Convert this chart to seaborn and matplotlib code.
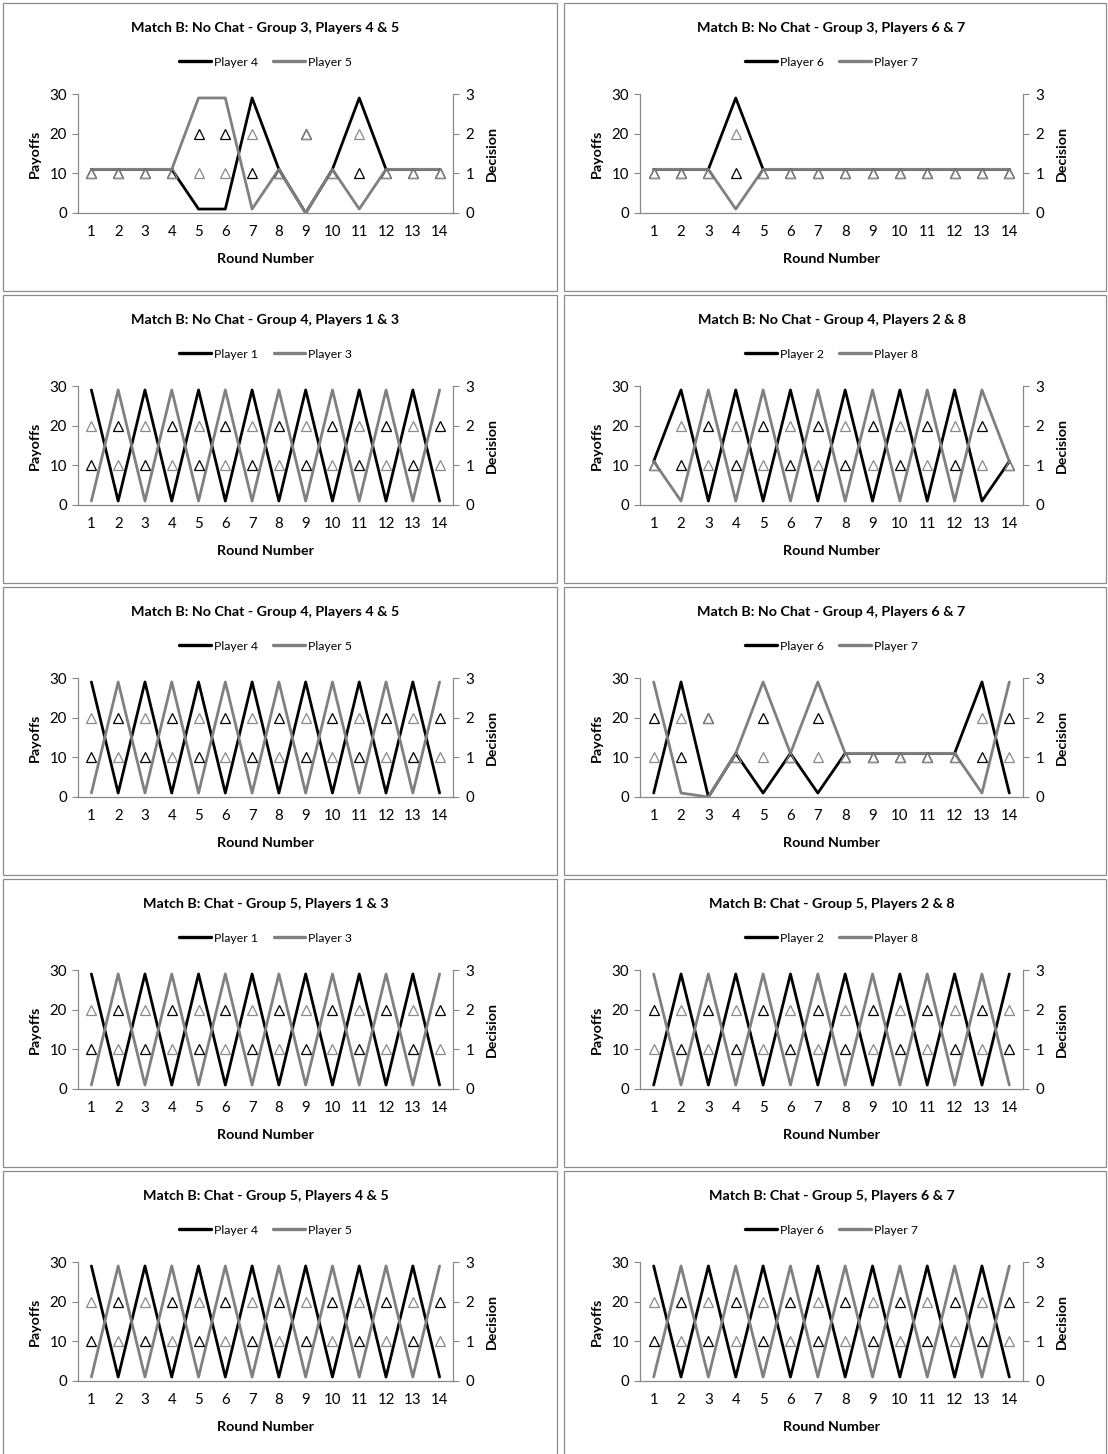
import matplotlib
matplotlib.use("Agg")
import matplotlib.pyplot as plt
import matplotlib.ticker as tck
from matplotlib.lines import Line2D
from matplotlib.patches import Rectangle
import pandas as pd
import seaborn as sns

# ---- data ----
ROUNDS = list(range(1, 15))

TITLES = [
    "Match B: No Chat - Group 3, Players 4 & 5",
    "Match B: No Chat - Group 3, Players 6 & 7",
    "Match B: No Chat - Group 4, Players 1 & 3",
    "Match B: No Chat - Group 4, Players 2 & 8",
    "Match B: No Chat - Group 4, Players 4 & 5",
    "Match B: No Chat - Group 4, Players 6 & 7",
    "Match B: Chat - Group 5, Players 1 & 3",
    "Match B: Chat - Group 5, Players 2 & 8",
    "Match B: Chat - Group 5, Players 4 & 5",
    "Match B: Chat - Group 5, Players 6 & 7",
]
PLAYER_A = ["Player 4", "Player 6", "Player 1", "Player 2", "Player 4",
            "Player 6", "Player 1", "Player 2", "Player 4", "Player 6"]
PLAYER_B = ["Player 5", "Player 7", "Player 3", "Player 8", "Player 5",
            "Player 7", "Player 3", "Player 8", "Player 5", "Player 7"]

PAYOFF_A = [
    [11, 11, 11, 11, 1, 1, 29, 11, 0, 11, 29, 11, 11, 11],
    [11, 11, 11, 29, 11, 11, 11, 11, 11, 11, 11, 11, 11, 11],
    [29, 1, 29, 1, 29, 1, 29, 1, 29, 1, 29, 1, 29, 1],
    [11, 29, 1, 29, 1, 29, 1, 29, 1, 29, 1, 29, 1, 11],
    [29, 1, 29, 1, 29, 1, 29, 1, 29, 1, 29, 1, 29, 1],
    [1, 29, 0, 11, 1, 11, 1, 11, 11, 11, 11, 11, 29, 1],
    [29, 1, 29, 1, 29, 1, 29, 1, 29, 1, 29, 1, 29, 1],
    [1, 29, 1, 29, 1, 29, 1, 29, 1, 29, 1, 29, 1, 29],
    [29, 1, 29, 1, 29, 1, 29, 1, 29, 1, 29, 1, 29, 1],
    [29, 1, 29, 1, 29, 1, 29, 1, 29, 1, 29, 1, 29, 1],
]
PAYOFF_B = [
    [11, 11, 11, 11, 29, 29, 1, 11, 0, 11, 1, 11, 11, 11],
    [11, 11, 11, 1, 11, 11, 11, 11, 11, 11, 11, 11, 11, 11],
    [1, 29, 1, 29, 1, 29, 1, 29, 1, 29, 1, 29, 1, 29],
    [11, 1, 29, 1, 29, 1, 29, 1, 29, 1, 29, 1, 29, 11],
    [1, 29, 1, 29, 1, 29, 1, 29, 1, 29, 1, 29, 1, 29],
    [29, 1, 0, 11, 29, 11, 29, 11, 11, 11, 11, 11, 1, 29],
    [1, 29, 1, 29, 1, 29, 1, 29, 1, 29, 1, 29, 1, 29],
    [29, 1, 29, 1, 29, 1, 29, 1, 29, 1, 29, 1, 29, 1],
    [1, 29, 1, 29, 1, 29, 1, 29, 1, 29, 1, 29, 1, 29],
    [1, 29, 1, 29, 1, 29, 1, 29, 1, 29, 1, 29, 1, 29],
]
DECISION_A = [
    [1, 1, 1, 1, 2, 2, 1, 1, 2, 1, 1, 1, 1, 1],
    [1, 1, 1, 1, 1, 1, 1, 1, 1, 1, 1, 1, 1, 1],
    [1, 2, 1, 2, 1, 2, 1, 2, 1, 2, 1, 2, 1, 2],
    [1, 1, 2, 1, 2, 1, 2, 1, 2, 1, 2, 1, 2, 1],
    [1, 2, 1, 2, 1, 2, 1, 2, 1, 2, 1, 2, 1, 2],
    [2, 1, 2, 1, 2, 1, 2, 1, 1, 1, 1, 1, 1, 2],
    [1, 2, 1, 2, 1, 2, 1, 2, 1, 2, 1, 2, 1, 2],
    [2, 1, 2, 1, 2, 1, 2, 1, 2, 1, 2, 1, 2, 1],
    [1, 2, 1, 2, 1, 2, 1, 2, 1, 2, 1, 2, 1, 2],
    [1, 2, 1, 2, 1, 2, 1, 2, 1, 2, 1, 2, 1, 2],
]
DECISION_B = [
    [1, 1, 1, 1, 1, 1, 2, 1, 2, 1, 2, 1, 1, 1],
    [1, 1, 1, 2, 1, 1, 1, 1, 1, 1, 1, 1, 1, 1],
    [2, 1, 2, 1, 2, 1, 2, 1, 2, 1, 2, 1, 2, 1],
    [1, 2, 1, 2, 1, 2, 1, 2, 1, 2, 1, 2, 1, 1],
    [2, 1, 2, 1, 2, 1, 2, 1, 2, 1, 2, 1, 2, 1],
    [1, 2, 2, 1, 1, 1, 1, 1, 1, 1, 1, 1, 2, 1],
    [2, 1, 2, 1, 2, 1, 2, 1, 2, 1, 2, 1, 2, 1],
    [1, 2, 1, 2, 1, 2, 1, 2, 1, 2, 1, 2, 1, 2],
    [2, 1, 2, 1, 2, 1, 2, 1, 2, 1, 2, 1, 2, 1],
    [2, 1, 2, 1, 2, 1, 2, 1, 2, 1, 2, 1, 2, 1],
]

# ---- layout (pixels) ----
W, H = 1108, 1454
ROW_TOP = [3, 295, 587, 879, 1171]
PANEL_X = [(3, 557), (564, 1106)]
PLOT_X = [(78, 453), (640, 1023)]
PLOT_TOP, PLOT_H = 91, 119

BLACK = "#000000"
GRAY = "#808080"
SPINE = "#888888"
FONT = ["Lato", "DejaVu Sans"]
TICK_FS = 10.8
LABEL_FS = 10.3


def draw_panel(fig, i):
    row, col = divmod(i, 2)
    top = ROW_TOP[row]
    px0, px1 = PANEL_X[col]
    fig.add_artist(Rectangle((px0 / W, 1 - (top + 288) / H), (px1 - px0) / W, 288 / H,
                             transform=fig.transFigure, fill=False, ec="#8c8c8c", lw=0.9))
    x0, x1 = PLOT_X[col]
    ax = fig.add_axes([x0 / W, 1 - (top + PLOT_TOP + PLOT_H) / H, (x1 - x0) / W, PLOT_H / H])

    df = pd.DataFrame({
        "round": ROUNDS + ROUNDS,
        "payoff": PAYOFF_A[i] + PAYOFF_B[i],
        "player": [PLAYER_A[i]] * 14 + [PLAYER_B[i]] * 14,
    })
    sns.lineplot(data=df, x="round", y="payoff", hue="player",
                 hue_order=[PLAYER_A[i], PLAYER_B[i]], palette=[BLACK, GRAY],
                 lw=2.0, errorbar=None, legend=False, ax=ax)

    # decisions on the secondary axis, hollow triangles
    ax2 = ax.twinx()
    for dec, c in [(DECISION_A[i], BLACK), (DECISION_B[i], "#8a8a8a")]:
        sns.lineplot(x=ROUNDS, y=dec, ax=ax2, errorbar=None, color=c, marker="^",
                     linestyle="", mfc="none", mec=c, ms=7.5, mew=0.9)

    ax.set_xlim(0.5, 14.5)
    ax.set_ylim(0, 30)
    ax2.set_ylim(0, 3)
    ax.xaxis.set_major_locator(tck.FixedLocator(ROUNDS))
    ax.xaxis.set_minor_locator(tck.MultipleLocator(1, offset=0.5))
    ax.yaxis.set_major_locator(tck.MultipleLocator(10))
    ax2.yaxis.set_major_locator(tck.MultipleLocator(1))
    ax.tick_params(axis="x", which="major", length=0, pad=9, labelsize=TICK_FS, labelcolor=BLACK)
    ax.tick_params(axis="x", which="minor", length=4, width=0.8, color=SPINE, direction="out")
    ax.tick_params(axis="y", length=4, width=0.8, color=SPINE, labelsize=TICK_FS, pad=4,
                   labelcolor=BLACK)
    ax2.tick_params(axis="y", length=4, width=0.8, color=SPINE, labelsize=TICK_FS, pad=5,
                    labelcolor=BLACK)

    for a in (ax, ax2):
        a.spines["top"].set_visible(False)
        for s in a.spines.values():
            s.set_color(SPINE)
            s.set_linewidth(0.9)
    ax.spines["right"].set_visible(False)
    ax2.spines["left"].set_visible(False)
    ax2.spines["bottom"].set_visible(False)

    ax.set_xlabel("Round Number", fontweight="bold", fontsize=LABEL_FS, labelpad=10, color=BLACK)
    ax.set_ylabel("Payoffs", fontweight="bold", fontsize=LABEL_FS, labelpad=6, color=BLACK)
    ax2.set_ylabel("Decision", fontweight="bold", fontsize=LABEL_FS, labelpad=8, color=BLACK)

    ax.text(0.5, 1 + (PLOT_TOP - 25) / PLOT_H, TITLES[i], transform=ax.transAxes,
            ha="center", va="center", fontweight="bold", fontsize=10.3, color=BLACK)
    handles = [Line2D([], [], color=BLACK, lw=2.4), Line2D([], [], color=GRAY, lw=2.4)]
    leg = ax.legend(handles, [PLAYER_A[i], PLAYER_B[i]], loc="center",
                    bbox_to_anchor=(0.5, 1 + (PLOT_TOP - 59) / PLOT_H), ncol=2, frameon=False,
                    fontsize=8.8, handlelength=2.6, handletextpad=0.25, columnspacing=1.3)
    for t in leg.get_texts():
        t.set_color(BLACK)


def main():
    sns.set_theme(style="white")
    plt.rcParams["font.family"] = FONT
    plt.rcParams["text.color"] = BLACK
    fig = plt.figure(figsize=(W / 100, H / 100), dpi=100)
    fig.patch.set_facecolor("white")
    for i in range(len(TITLES)):
        draw_panel(fig, i)
    fig.savefig("out.png", dpi=100)


if __name__ == "__main__":
    main()
